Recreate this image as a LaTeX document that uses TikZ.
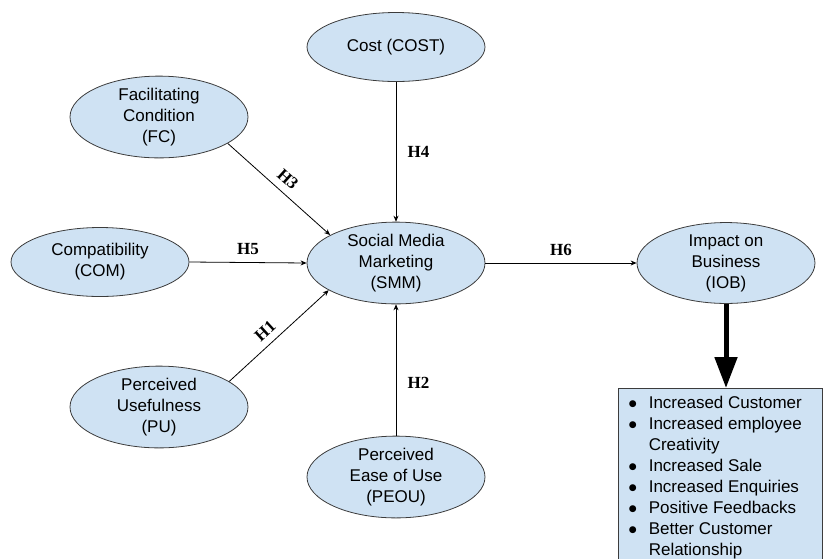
\documentclass[tikz,border=0pt]{standalone}
\usepackage{fontspec}
\setmainfont{Liberation Sans}
\newfontfamily\hypfont{Liberation Serif}
\newfontfamily\dotfont{DejaVu Sans}
\usepackage{xcolor}
\definecolor{smmblue}{HTML}{CFE2F3}
\definecolor{smmedge}{HTML}{3C3C3C}
\usetikzlibrary{positioning,calc,shapes.geometric,arrows.meta}
\newcommand{\itemdot}{\raisebox{2pt}{\dotfont\fontsize{9}{9}\selectfont ●}}

\begin{document}
\begin{tikzpicture}[x=1pt, y=-1pt,
    construct/.style={ellipse, draw=smmedge, fill=smmblue, line width=0.8pt,
        minimum width=178pt, minimum height=69pt, inner sep=0pt, align=center,
        font=\fontsize{17}{21}\selectfont},
    link/.style={-{Stealth[length=6pt,width=5pt]}, line width=0.8pt},
    hyp/.style={font=\hypfont\bfseries\fontsize{17}{20}\selectfont}]
    \useasboundingbox (0,0) rectangle (823,558);
    \clip (0,0) rectangle (823,558);

    % constructs
    \node[construct] (cost) at (396,47) {Cost (COST)};
    \node[construct] (fc) at (159,117) {Facilitating\\Condition\\(FC)};
    \node[construct] (com) at (100,262) {Compatibility\\(COM)};
    \node[construct] (smm) at (396,263) {Social Media\\Marketing\\(SMM)};
    \node[construct] (pu) at (159,407) {Perceived\\Usefulness\\(PU)};
    \node[construct] (peou) at (396,477) {Perceived\\Ease of Use\\(PEOU)};
    \node[construct] (iob) at (726,263) {Impact on\\Business\\(IOB)};

    % outcomes
    \node[draw=smmedge, fill=smmblue, line width=0.8pt, anchor=north west,
        minimum width=204pt, inner xsep=6pt, inner ysep=5pt, align=left,
        font=\fontsize{17}{21}\selectfont] (outcome) at (618,388)
        {\begin{tabular}{@{\hspace{-10pt}}l@{\hspace{12pt}}l@{}}
            \itemdot & Increased Customer\\
            \itemdot & Increased employee\\
                     & Creativity\\
            \itemdot & Increased Sale\\
            \itemdot & Increased Enquiries\\
            \itemdot & Positive Feedbacks\\
            \itemdot & Better Customer\\
                     & Relationship
        \end{tabular}};

    % hypotheses
    \draw[link] (cost.south) -- node[hyp, right=8pt] {H4} (smm.north);
    \draw[link] (fc.-21.6) -- node[hyp, sloped, above=4pt, pos=0.5] {H3} (smm.157.6);
    \draw[link] (com.east) -- node[hyp, above=4pt] {H5} (smm.west);
    \draw[link] (pu.20.9) -- node[hyp, sloped, above=4pt, pos=0.45] {H1} (smm.202.4);
    \draw[link] (peou.north) -- node[hyp, right=8pt, pos=0.4] {H2} (smm.south);
    \draw[link] (smm.east) -- node[hyp, above=4pt] {H6} (iob.west);
    \draw[-{Triangle[length=31pt,width=22pt]}, line width=5pt]
        (iob.south) -- (iob.south |- outcome.north);
\end{tikzpicture}
\end{document}
